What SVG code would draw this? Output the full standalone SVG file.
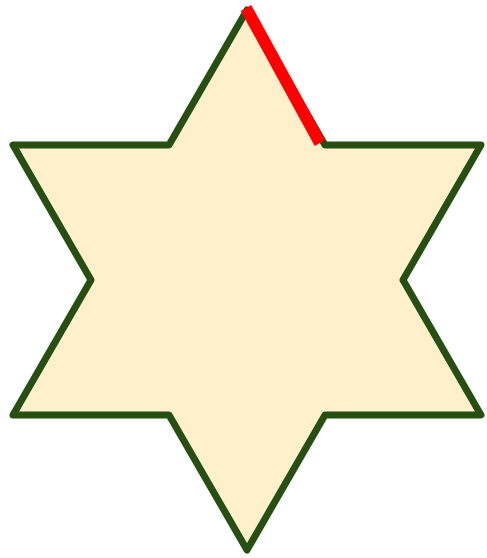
<svg xmlns="http://www.w3.org/2000/svg" width="487" height="558" viewBox="0 0 487 558">
<style>
.star{fill:#fff0cc;stroke:#274e13;stroke-width:7;stroke-linejoin:round}
.hl{stroke:#ff0000;stroke-width:12;stroke-linecap:butt;fill:none}
</style>
<rect width="487" height="558" fill="#ffffff"/>
<g id="star">
<polygon class="star" points="247,10 325,145 481,145 403,280 481,415 325,415 247,550 169,415 13,415 91,280 13,145 169,145"/>
</g>
<g id="connectors">
<line class="hl" x1="246" y1="8" x2="320" y2="143"/>
</g>
</svg>
